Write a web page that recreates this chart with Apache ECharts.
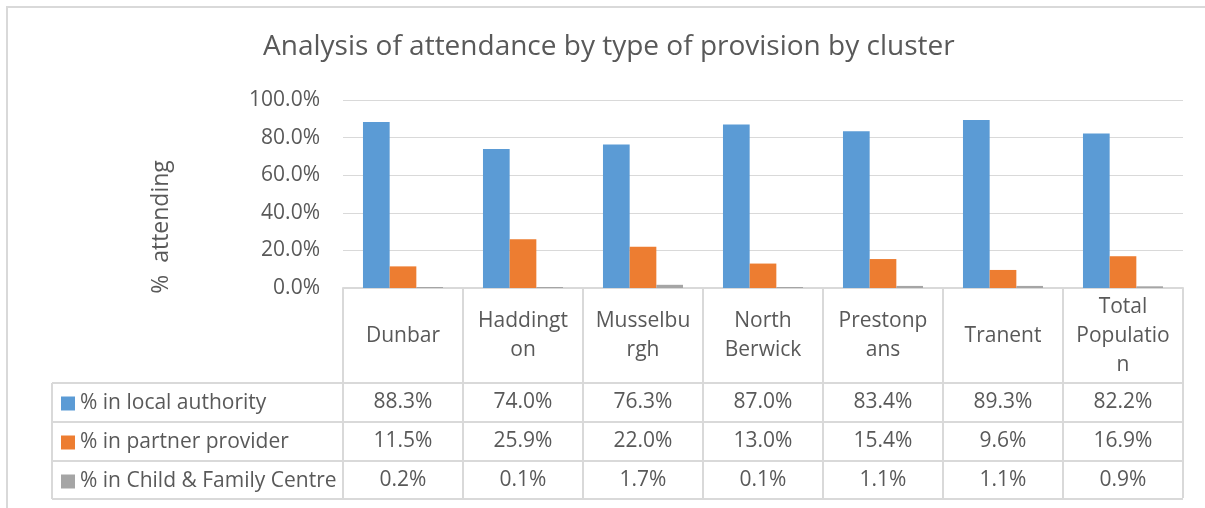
<!DOCTYPE html>
<html>
<head>
<meta charset="utf-8">
<title>Analysis of attendance by type of provision by cluster</title>
<script src="https://cdn.jsdelivr.net/npm/echarts@6/dist/echarts.min.js"></script>
<style>
    html, body {
        margin: 0;
        padding: 0;
        background: #fff;
    }

    #main {
        width: 1205px;
        height: 508px;
    }
</style>
</head>
<body>
<div id="main"></div>
<script>
// clusters, with the wrapped labels the data table shows
var categories = ['Dunbar', 'Haddington', 'Musselburgh', 'North Berwick', 'Prestonpans', 'Tranent', 'Total Population'];
var categoryLabels = ['Dunbar', 'Haddingt\non', 'Musselbu\nrgh', 'North\nBerwick', 'Prestonp\nans', 'Tranent', 'Total\nPopulatio\nn'];

var seriesNames = ['% in local authority', '% in partner provider', '% in Child & Family Centre'];
var localAuthority = [88.3, 74.0, 76.3, 87.0, 83.4, 89.3, 82.2];
var partnerProvider = [11.5, 25.9, 22.0, 13.0, 15.4, 9.6, 16.9];
var childFamilyCentre = [0.2, 0.1, 1.7, 0.1, 1.1, 1.1, 0.9];

var yTicks = [0, 20, 40, 60, 80, 100];

var colors = ['#5b9bd5', '#ed7d31', '#a5a5a5'];
var textColor = '#595959';
var lineColor = '#d9d9d9';

var chartDom = document.getElementById('main');
var myChart = echarts.init(chartDom);
var option;

var allValues = [localAuthority, partnerProvider, childFamilyCentre];
var rowMargins = [114, 153, 192];

function pct(v) {
    return v.toFixed(1) + '%';
}

var xAxes = [{
    type: 'category',
    data: categories,
    position: 'bottom',
    axisLine: { lineStyle: { color: lineColor, width: 2 } },
    axisTick: { show: true, length: 210, lineStyle: { color: lineColor, width: 2 } },
    axisLabel: {
        interval: 0,
        margin: 48,
        verticalAlign: 'middle',
        lineHeight: 29,
        fontSize: 21,
        fontFamily: 'Open Sans',
        color: textColor,
        formatter: function (v, i) { return categoryLabels[i]; }
    }
}];

// one hidden axis per table row, so the values sit under their category
allValues.forEach(function (vals, k) {
    xAxes.push({
        type: 'category',
        data: categories,
        position: 'bottom',
        axisLine: { show: false },
        axisTick: { show: false },
        axisLabel: {
            interval: 0,
            margin: rowMargins[k],
            verticalAlign: 'middle',
            fontSize: 21,
            fontFamily: 'Open Sans',
            color: textColor,
            formatter: function (v, i) { return pct(vals[i]); }
        }
    });
});

var tableRows = [383, 422, 461, 499];
var graphics = [{
    type: 'rect',
    shape: { x: 7, y: 7, width: 1400, height: 700 },
    style: { fill: 'none', stroke: lineColor, lineWidth: 2 },
    silent: true
}, {
    type: 'line',
    shape: { x1: 52, y1: 383, x2: 52, y2: 499 },
    style: { stroke: lineColor, lineWidth: 2 },
    silent: true
}, {
    type: 'text',
    x: 161,
    y: 227,
    rotation: Math.PI / 2,
    style: {
        text: '%  attending',
        fill: textColor,
        font: '23px "Open Sans"',
        textAlign: 'center',
        textVerticalAlign: 'middle'
    },
    silent: true
}];
tableRows.forEach(function (y) {
    graphics.push({
        type: 'line',
        shape: { x1: 52, y1: y, x2: 1183, y2: y },
        style: { stroke: lineColor, lineWidth: 2 },
        silent: true
    });
});

option = {
    animation: false,
    color: colors,
    title: {
        text: 'Analysis of attendance by type of provision by cluster',
        left: 258,
        top: 28,
        textStyle: {
            fontFamily: 'Open Sans',
            fontSize: 28,
            fontWeight: 'normal',
            color: textColor
        }
    },
    legend: {
        data: seriesNames,
        orient: 'vertical',
        left: 61,
        top: 393,
        padding: 0,
        icon: 'rect',
        itemWidth: 14,
        itemHeight: 14,
        itemGap: 18,
        textStyle: {
            fontFamily: 'Open Sans',
            fontSize: 21,
            lineHeight: 21,
            color: textColor
        }
    },
    grid: {
        left: 343,
        top: 100,
        width: 840,
        height: 188,
        containLabel: false
    },
    xAxis: xAxes,
    yAxis: {
        type: 'value',
        min: yTicks[0],
        max: yTicks[yTicks.length - 1],
        interval: 20,
        axisLine: { show: false },
        axisTick: { show: false },
        splitLine: { lineStyle: { color: lineColor, width: 1 } },
        axisLabel: {
            margin: 23,
            fontSize: 21,
            fontFamily: 'Open Sans',
            color: textColor,
            formatter: function (v) { return pct(v); }
        }
    },
    series: seriesNames.map(function (name, k) {
        return {
            name: name,
            type: 'bar',
            data: allValues[k],
            barGap: 0,
            barCategoryGap: '33.3%',
            barMinHeight: 1,
            xAxisIndex: 0,
            yAxisIndex: 0
        };
    }),
    graphic: graphics
};

option && myChart.setOption(option);
</script>
</body>
</html>
